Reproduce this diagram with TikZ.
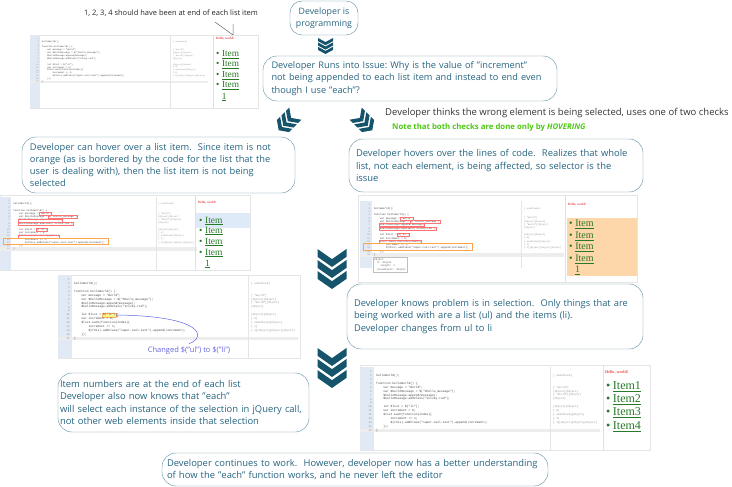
\documentclass[tikz,border=0pt]{standalone}
\usepackage{fontspec}
\setmainfont{Open Sans}
\newfontfamily\itemfont{Liberation Serif}
\newfontfamily\codefont{Liberation Mono}

\definecolor{flowtext}{RGB}{38,100,128}
\definecolor{flowline}{RGB}{92,140,162}
\definecolor{chevblue}{RGB}{22,84,108}
\definecolor{gutterblue}{RGB}{225,233,244}
\definecolor{itemgreen}{RGB}{40,120,40}
\definecolor{notegreen}{RGB}{76,200,20}
\definecolor{hellored}{RGB}{235,70,70}
\definecolor{pickorange}{RGB}{253,214,170}
\definecolor{pickblue}{RGB}{222,234,248}
\definecolor{changeblue}{RGB}{100,100,225}

\tikzset{
  flowbox/.style={draw=flowline,rounded corners=14pt,text=flowtext,align=left,
    font=\frenchspacing\fontsize{#1}{12.3}\selectfont,inner ysep=2pt},
  shot/.style={draw=black!10,fill=white},
  panesep/.style={draw=black!12},
  linenum/.style={anchor=east,inner sep=0pt,text=black!45,font=\codefont\fontsize{2.6}{3}\selectfont},
  codeline/.style={anchor=west,inner sep=0pt,text=black!75,font=\codefont\fontsize{3}{3.6}\selectfont},
  watchval/.style={anchor=west,inner sep=0pt,text=black!45,font=\codefont\fontsize{2.6}{3}\selectfont},
  hoverline/.style={draw=red!55,line width=0.3pt},
  hello/.style={anchor=west,inner sep=0pt,text=hellored,font=\itemfont\bfseries\fontsize{#1}{#1}\selectfont},
  listitem/.style={anchor=west,inner sep=0pt,text=itemgreen,font=\itemfont\fontsize{#1}{#1}\selectfont},
  selmark/.style={fill=yellow!45,draw=orange!60,line width=0.3pt,inner sep=0pt,minimum width=14pt,minimum height=4.5pt},
  chevs/.pic={
    \foreach \k in {0,1,2}
      \fill[chevblue] (-0.5,-0.69+0.38*\k) -- (0,-0.34+0.38*\k) -- (0.5,-0.69+0.38*\k)
        -- (0.5,-0.42+0.38*\k) -- (0,-0.07+0.38*\k) -- (-0.5,-0.42+0.38*\k) -- cycle;
  },
  hovermarks/.pic={
    \draw[hoverline] (47.5,18.7) rectangle (62,22.3);
    \draw[hoverline] (58.5,22.6) rectangle (94,26.2);
    \draw[hoverline] (22.5,26.5) rectangle (76,30.1);
    \draw[hoverline] (22.5,30.4) rectangle (89,34);
    \draw[hoverline] (44,38.2) rectangle (58,41.8);
    \draw[hoverline] (22.5,46) rectangle (72.5,49.6);
    \draw[draw=orange!70,line width=0.3pt] (4,49.9) rectangle (132,57.4);
  },
  pics/codepane/.style 2 args={code={
    \fill[gutterblue] (0,0) rectangle (14,#2);
    \fill[black!7] (0,61.5) rectangle (240,65.3);
    \draw[black!10] (190,0) -- (190,#2);
    \foreach \r in {1,...,16}
      \node[linenum] (n\r) at (12,1+\r*3.9) {\r};
    \foreach \r/\c/\t in {2/0/{helloWorld();},4/0/{function helloWorld() \{},
        5/4/{var message = "World";},6/4/{var \$helloMessage = \$("\#hello\_message");},
        7/4/{\$helloMessage.append(message);},8/4/{\$helloMessage.addClass("sticky-red");},
        10/4/{let \$list = \$("#1");},11/4/{var increment = 0;},
        12/4/{\$list.each(function(index)\{},13/8/{increment += 1;},
        14/8/{\$(this).addClass("super-cool-text").append(increment);},15/4/{\});},16/0/{\}}}
      \node[codeline] (c\r) at (16+\c*1.8,1+\r*3.9) {\t};
    \foreach \r/\t in {2/{[ undefined]},5/{[ "World"]},6/{[Object][Object]},
        7/{[ "World"][Object]},8/{[Object]},10/{[Object][Object]},11/{[ 0]},
        12/{[ undefined][Object]},13/{[ 1]},14/{[ 1][Object][Object][Object]}}
      \node[watchval] (w\r) at (193,1+\r*3.9) {\t};
  }}
}

\begin{document}
\begin{tikzpicture}[x=1pt,y=-1pt]
  \useasboundingbox (0,0) rectangle (732,487);

  \node[font=\fontsize{7.5}{8.5}\selectfont,text=black!85] (missing) at (171,13) {1, 2, 3, 4 should have been at end of each list item};
  \coordinate (tickA) at (215,22);
  \coordinate (tickB) at (233,35);
  \coordinate (tickC) at (233,24);
  \draw[black!60,line width=0.5pt] (tickA) -- (tickB) -- (tickC);

  \draw[shot] (30,35) rectangle (258,108);
  \pic[scale=0.74,transform shape] (paneA) at (30,35) {codepane={ul}{98.6}};
  \draw[panesep] (213,35) -- (213,108);
  \node[hello=3.2] (helloA) at (216,39) {Hello, world!};
  \foreach \i/\y in {1/55,2/65,3/76,4/86}
    \node[listitem=9.3] (itemA\i) at (216,\y) {\textbullet\hspace{2.6pt}\underline{Item}};
  \node[listitem=9.3] (countA) at (221.6,97) {\underline{1}};

  \node[flowbox=8.8,align=center,rounded corners=12pt,minimum width=68pt,minimum height=34pt] (coding) at (324,18) {Developer is\\programming};
  \pic[xscale=15,yscale=11.6] (chevA) at (325.5,46) {chevs};
  \node[flowbox=9.2,minimum height=45pt,text width=277pt,inner xsep=8.5pt] (issue) at (410,78.5) {Developer Runs into Issue: Why is the value of "increment"\\not being appended to each list item and instead to end even\\though I use "each"?};

  \pic[scale=17,rotate=-45] (chevB) at (287,122) {chevs};
  \pic[scale=17,rotate=45] (chevC) at (364,122) {chevs};
  \node[anchor=west,inner sep=0pt,text=black!80,font=\fontsize{9.5}{11}\selectfont] (guess) at (385,113) {Developer thinks the wrong element is being selected, uses one of two checks};
  \node[anchor=west,inner sep=0pt,text=notegreen,font=\bfseries\fontsize{7.8}{9}\selectfont] (hovernote) at (392,127) {Note that both checks are done only by \textit{HOVERING}};

  \node[flowbox=9.3,minimum height=56pt,text width=257pt,inner xsep=8pt] (itemcheck) at (158.5,165) {Developer can hover over a list item.\ \ Since item is not\\orange (as is bordered by the code for the list that the\\user is dealing with), then the list item is not being\\selected};
  \node[flowbox=9.4,minimum height=53pt,text width=280pt,inner xsep=7pt] (codecheck) at (496,165.5) {Developer hovers over the lines of code.\ \ Realizes that whole\\list, not each element, is being affected, so selector is the\\issue};

  \draw[shot] (0,195) rectangle (250,270);
  \pic[scale=0.82,transform shape] (paneB) at (0,197) {codepane={ul}{89}};
  \pic[scale=0.82,transform shape] (markB) at (0,197) {hovermarks};
  \draw[panesep] (195,195) -- (195,270);
  \fill[pickblue] (195.5,213) rectangle (250,228);
  \node[hello=3.2] (helloB) at (198,203) {Hello, world!};
  \foreach \i/\y in {1/221,2/231,3/242,4/253}
    \node[listitem=9.5] (itemB\i) at (199,\y) {\textbullet\hspace{2.6pt}\underline{Item}};
  \node[listitem=9.5] (countB) at (205,264) {\underline{1}};

  \draw[shot] (358,195) rectangle (637,282);
  \pic[scale=0.85,transform shape] (paneC) at (360,201) {codepane={ul}{79}};
  \pic[scale=0.85,transform shape] (markC) at (360,201) {hovermarks};
  \draw[panesep] (565,195) -- (565,282);
  \fill[pickorange] (567,218) rectangle (637,276);
  \node[hello=3.2] (helloC) at (568,205) {Hello, world!};
  \foreach \i/\y in {1/224,2/236,3/247,4/259}
    \node[listitem=10] (itemC\i) at (569,\y) {\textbullet\hspace{2.6pt}\underline{Item}};
  \node[listitem=10] (countC) at (575,270) {\underline{1}};
  \node[anchor=north west,draw=black!25,fill=white,align=left,inner sep=1pt,text=black!65,font=\codefont\fontsize{2.6}{3.4}\selectfont] (popup) at (373,257) {Object\\\ \ 0: Object\\\ \ \ \ length: 1\\\ \ prevObject: Object};

  \pic[scale=29] (chevD) at (332,269) {chevs};

  \draw[shot] (58,275) rectangle (300,358);
  \node[selmark] (sel) at (109,315) {};
  \pic[scale=1,transform shape] (paneD) at (58,275) {codepane={li}{83}};
  \node[font=\fontsize{7.5}{9}\selectfont,text=changeblue] (changed) at (189,351) {Changed \$("ul") to \$("li")};
  \draw[changeblue,->,line width=0.5pt] (changed.north) .. controls (207,337) and (203,316) .. (sel.east);

  \node[flowbox=9.3,minimum height=65pt,text width=282pt,inner xsep=7pt] (selector) at (495,316.5) {Developer knows problem is in selection.\ \ Only things that are\\being worked with are a list (ul) and the items (li).\\Developer changes from ul to li};

  \pic[scale=29] (chevE) at (332,368) {chevs};

  \node[flowbox=9.4,minimum height=59pt,text width=247pt,inner xsep=2pt] (fixed) at (183.5,402.5) {Item numbers are at the end of each list\\Developer also now knows that "each"\\will select each instance of the selection in jQuery call,\\not other web elements inside that selection};

  \draw[shot] (360,365) rectangle (650,450);
  \pic[scale=1,transform shape] (paneE) at (360,367) {codepane={li}{83}};
  \draw[panesep] (603,365) -- (603,450);
  \node[hello=4.1] (helloE) at (605,372) {Hello, world!};
  \foreach \i/\y in {1/387,2/400,3/413,4/427}
    \node[listitem=12] (itemE\i) at (606,\y) {\textbullet\hspace{2.6pt}\underline{Item\i}};

  \node[flowbox=9.4,minimum height=33pt,text width=376pt,inner xsep=5pt] (carryon) at (355,469.5) {Developer continues to work.\ \ However, developer now has a better understanding\\of how the "each" function works, and he never left the editor};
\end{tikzpicture}
\end{document}
